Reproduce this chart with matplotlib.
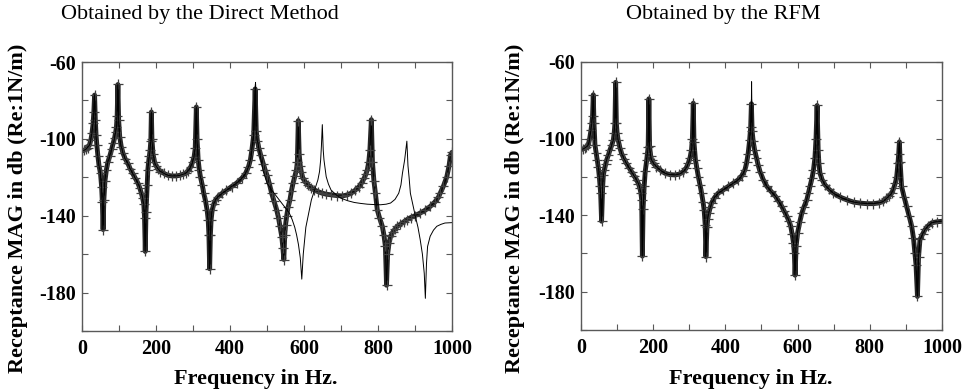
import numpy as np
import matplotlib
matplotlib.use('Agg')
import matplotlib.pyplot as plt

plt.rcParams['font.family'] = ['Liberation Serif', 'DejaVu Serif']

# Direct method, sampled points (+ markers)
direct_f = [0, 5, 10, 15, 20, 24, 27, 30, 32, 34, 36, 38, 40, 43, 46, 50, 53, 55, 57, 59,
            62, 66, 70, 75, 80, 84, 88, 91, 93, 95, 97, 99, 102, 106, 111, 117, 124, 130, 137, 144,
            151, 156, 160, 164, 167, 169, 171, 173, 176, 178, 180, 182, 184, 186, 187.5, 189, 192, 196, 200, 205,
            212, 222, 232, 243, 254, 264, 272, 280, 287, 294, 299, 303, 306, 309, 311, 314, 317, 320, 325, 329,
            334, 338, 341, 343, 345, 347, 349, 352, 356, 361, 368, 379, 390, 405, 418, 432, 442, 450, 455, 459,
            464, 468, 471, 474, 478, 483, 490, 495, 500, 506, 512.5, 519, 526, 531, 535, 540, 543, 545.5, 548, 550,
            553, 557, 562, 566, 570.5, 575, 579.5, 582, 584.5, 587, 590, 593, 597, 604, 611, 620, 628, 637.5, 648, 660,
            673, 688, 704, 716, 727, 738, 749, 756, 762.5, 767, 771, 775, 778, 782, 785, 789, 793, 798, 804, 811.6,
            816, 820, 823, 826, 830, 834, 840, 846, 852, 860, 869, 878.6, 888, 900, 914, 927, 941, 953, 963, 968,
            977, 986, 992, 996, 1000]
direct_db = [-106.2, -106.0, -105.5, -104.5, -103.3, -100.5, -97, -92, -86, -77.2, -90, -98, -103, -109, -114, -118, -125, -133, -147.2, -132,
             -122, -116, -112, -109, -105.5, -102.4, -99.5, -96.5, -94, -88, -71.7, -90, -99, -104, -107.6, -110.5, -112.8, -115.5, -118, -120.5,
             -123, -125.5, -128, -131, -134, -141, -158.6, -138, -124, -116, -112, -109, -106, -101, -86, -100, -108, -112, -114, -115.5,
             -117, -118, -119, -119.3, -119.3, -119, -118.5, -118, -116.5, -114.5, -112, -109.3, -105, -83.4, -100, -111, -116, -119.7, -124, -128.3,
             -132.5, -136.9, -142, -150, -167.6, -150, -142, -136.9, -134, -131.7, -130, -128.3, -126.8, -124.8, -123, -120.5, -118, -114.5, -111, -106,
             -98, -74, -96, -101, -105, -108.5, -113, -116.2, -119, -123, -128.3, -132.5, -136.9, -141, -145.5, -151, -157, -162.8, -150, -145,
             -140.3, -135.5, -131.7, -127, -123, -119.5, -116.2, -112, -90.5, -108, -114, -117.5, -120.5, -122.5, -124, -125.5, -126.6, -127.4, -128.2, -128.8,
             -129.1, -129.5, -129.7, -129.2, -128.3, -126.8, -124.8, -122.8, -120.5, -118.5, -116.2, -112, -106, -90, -112, -122, -128.3, -136.9, -141, -145.5,
             -150, -156, -176.2, -160, -154, -150.7, -148.5, -147, -145.5, -144.5, -143.3, -142, -141, -140, -138.6, -137.2, -135.2, -133, -130.5, -128.3,
             -124.5, -119.7, -114, -108.5, -107]

# Direct method, continuous curve where it leaves the sampled points
exact_f = [483, 490, 500, 510, 520, 530, 540, 550, 560, 568, 575, 580, 585, 590, 594, 598, 600, 605, 611, 620,
           628.6, 637.5, 642, 645, 647, 649.5, 652, 654, 660, 666, 673, 686, 700, 718, 735.7, 753, 771, 790, 807, 822,
           834, 846, 856, 862, 866, 872, 878, 881, 884, 887.5, 894, 901, 908, 914, 920, 925, 928, 931, 934, 941,
           950, 959, 970, 981, 1000]
exact_db = [-110, -117, -123, -126, -128.5, -131, -133.5, -136, -138.5, -142, -146, -150, -155, -162, -173, -160, -155.9, -146, -140.3, -131.7,
            -126.6, -121.4, -117, -111, -104, -92.6, -106, -111, -119.7, -123.5, -126.6, -129, -130.9, -132.2, -133.1, -133.6, -134, -134.2, -134.3, -134,
            -133.4, -131.5, -128.3, -124, -118, -111, -101.2, -114, -120, -128.3, -134, -140.3, -146, -152.4, -160, -170, -183, -165, -156, -150.7,
            -147.5, -145.5, -144.5, -143.8, -143.6]

# RFM
rfm_f = [0, 5, 10, 15, 20, 24, 27.7, 30, 32, 34, 36, 38.7, 42, 45, 48, 50.7, 53, 54.4, 57, 60,
         62, 64.6, 68, 71, 76, 80, 85, 89.5, 92, 94, 96, 98, 100, 103, 108, 112.5, 119, 126, 133, 140,
         147, 154, 159, 163, 166, 168, 170, 172, 175, 178, 182, 184, 186, 188, 190, 193, 195.6, 201, 209, 220,
         232.5, 246, 260, 272, 283, 291, 297, 302, 306, 308.5, 311, 313, 317, 321, 325, 330, 334, 338, 341, 344,
         346, 349, 351, 354, 358, 361.6, 370, 380, 394, 408, 421, 435, 445, 454, 459, 463, 467, 470, 472, 474,
         477, 481, 486, 491, 496, 505, 515, 526, 538, 547, 556, 563, 570, 576, 581, 585, 588.6, 591, 593, 596,
         600, 606, 611.6, 618, 625.5, 630, 634.7, 640, 644, 648, 651, 654, 657, 659, 662, 668, 676, 687, 699, 717,
         736, 755, 773, 791, 810, 825, 837.6, 846, 853, 860.7, 866, 871, 874.5, 878, 880, 882, 884, 888, 895, 902,
         909, 916, 921, 925, 928, 932, 935, 939, 946, 953, 962, 971.4, 985, 1000]
rfm_db = [-105.7, -105.5, -105, -104.3, -103.4, -100, -95.6, -92, -88, -77.1, -92, -103.4, -107.5, -111.2, -115, -119.9, -125, -128.5, -143.2, -125,
          -119, -116.4, -113.5, -111.2, -108.5, -106, -103.5, -100.8, -97, -92, -70.6, -92, -97, -100.8, -105, -107.8, -110.5, -113, -115.2, -117.3,
          -119.5, -121.6, -123.5, -125.9, -128.5, -132, -161.4, -137, -125, -117, -111.2, -107.5, -104.3, -79.2, -104, -109, -111.2, -113, -114.7, -116.5,
          -118.1, -118.8, -119, -118.6, -117.3, -115.5, -113, -110, -106, -100, -81.5, -102, -111.2, -115.5, -119.9, -124.5, -128.5, -133, -137.2, -145,
          -161.7, -146, -142, -138.9, -136, -133.7, -130.8, -128.5, -126.8, -125, -123.4, -121.6, -119.5, -116.4, -112.5, -107.8, -101, -94, -81.8, -96,
          -101.5, -106, -110, -114, -117.3, -121.5, -125, -127.5, -130, -132.6, -135.4, -138, -140.6, -143, -145.8, -150, -154.5, -160, -171.4, -156,
          -149.3, -143.5, -139, -135.5, -132, -128.5, -125, -120.5, -116.4, -110, -100, -82.7, -106, -113, -118.1, -121.5, -124.2, -126.5, -128.5, -130.5,
          -132, -133.2, -133.7, -134, -134, -133.6, -132.8, -131.3, -130, -128.5, -126, -123, -119.9, -113, -108, -101.7, -112, -125, -130.5, -135.4,
          -140.5, -145.8, -152, -159.7, -166, -182.5, -162, -152.7, -150, -147.5, -145.5, -144, -143.5, -143.2]
# continuous curve tops that rise above the sampled points
rfm_tip_f = [472.5]
rfm_tip_db = [-70.3]
direct_tip_f = [469]
direct_tip_db = [-70.6]

xticks = list(range(0, 1001, 100))
xtick_labels = ['0', '', '200', '', '400', '', '600', '', '800', '', '1000']
yticks = list(range(-200, -59, 20))
ytick_labels = ['', '-180', '', '-140', '', '-100', '', '-60']


def style(ax):
    ax.set_xlim(0, 1000)
    ax.set_ylim(-200, -60)
    ax.set_xticks(xticks)
    ax.set_xticklabels(xtick_labels)
    ax.set_yticks(yticks)
    ax.set_yticklabels(ytick_labels)
    ax.tick_params(direction='in', top=True, right=True, length=4, width=0.8,
                   color='0.35', labelsize=14.5)
    ax.tick_params(axis='x', pad=6)
    ax.tick_params(axis='y', pad=4)
    for lab in ax.get_xticklabels() + ax.get_yticklabels():
        lab.set_fontweight('bold')
    for s in ax.spines.values():
        s.set_color('0.35')
        s.set_linewidth(1.0)


def sampled(ax, f, db):
    # dense '+' samples blur into a dark band in the original
    ax.plot(f, db, color='0.15', lw=3.5, solid_joinstyle='round', solid_capstyle='round')
    ax.plot(f, db, color='black', lw=0.7, marker='+', ms=7.5, mew=0.9, mec='0.25')


fig = plt.figure(figsize=(9.7, 3.91), dpi=100)
ax1 = fig.add_axes([82 / 970, 1 - 331 / 391, 370 / 970, 269 / 391])
ax2 = fig.add_axes([581 / 970, 1 - 330 / 391, 361 / 970, 268 / 391])

# left: direct method
line_f = [f for f in direct_f if f < 483] + exact_f
line_db = [d for f, d in zip(direct_f, direct_db) if f < 483] + exact_db
lf = np.array(line_f + direct_tip_f)
ld = np.array(line_db + direct_tip_db)
o = np.argsort(lf, kind='stable')
sampled(ax1, direct_f, direct_db)
ax1.plot(lf[o], ld[o], color='black', lw=0.7)
style(ax1)

# right: RFM
rf = np.array(rfm_f + rfm_tip_f)
rd = np.array(rfm_db + rfm_tip_db)
o = np.argsort(rf, kind='stable')
sampled(ax2, rfm_f, rfm_db)
ax2.plot(rf[o], rd[o], color='black', lw=0.7)
style(ax2)

fig.text(200 / 970, 1 - 15 / 391, 'Obtained by the Direct Method', ha='center', va='center', fontsize=16)
fig.text(723 / 970, 1 - 15 / 391, 'Obtained by the RFM', ha='center', va='center', fontsize=16)

for x in (18, 515):
    fig.text(x / 970, 1 - 208 / 391, 'Receptance MAG in db (Re:1N/m)', rotation=90,
             ha='center', va='center', fontsize=16, fontweight='bold')
fig.text(256 / 970, 1 - 379 / 391, 'Frequency in Hz.', ha='center', va='center', fontsize=16, fontweight='bold')
fig.text(751 / 970, 1 - 379 / 391, 'Frequency in Hz.', ha='center', va='center', fontsize=16, fontweight='bold')

fig.savefig('out.png', dpi=100)
